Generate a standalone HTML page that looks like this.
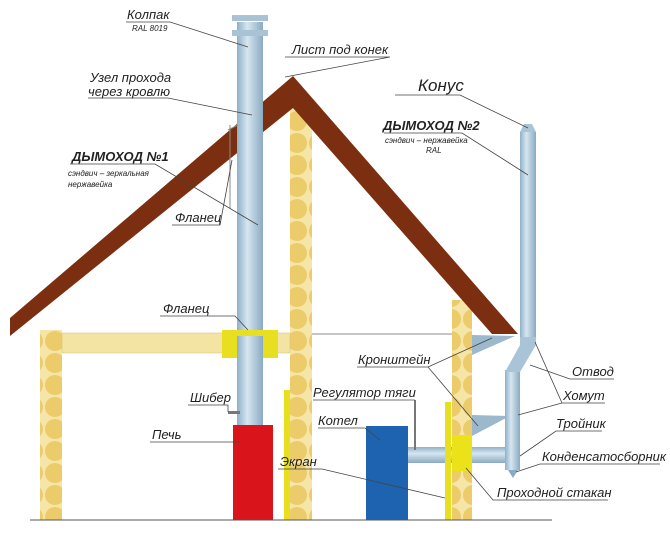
<!DOCTYPE html>
<html><head><meta charset="utf-8"><style>
html,body{margin:0;padding:0;background:#fff;}
svg{display:block}
text{font-family:"Liberation Sans","DejaVu Sans",sans-serif;font-style:italic;fill:#222;}
</style></head><body>
<svg width="670" height="551" viewBox="0 0 670 551" xmlns="http://www.w3.org/2000/svg">
<defs>
<linearGradient id="pg" x1="0" x2="1" y1="0" y2="0">
<stop offset="0" stop-color="#8fb0c8"/><stop offset="0.4" stop-color="#d6e6f0"/><stop offset="1" stop-color="#8aaac2"/>
</linearGradient>
<linearGradient id="ph" x1="0" x2="0" y1="0" y2="1">
<stop offset="0" stop-color="#8fb0c8"/><stop offset="0.4" stop-color="#d6e6f0"/><stop offset="1" stop-color="#8aaac2"/>
</linearGradient>
<pattern id="logs" width="22" height="22" patternUnits="userSpaceOnUse">
<rect width="22" height="22" fill="#f5e6a8"/><circle cx="11" cy="11" r="10" fill="#eccb6a"/>
</pattern>
</defs>
<rect x="40" y="330" width="22" height="190" fill="url(#logs)"/>
<rect x="290" y="108" width="22" height="412" fill="url(#logs)"/>
<rect x="452" y="300" width="20" height="220" fill="url(#logs)"/>
<rect x="62" y="333" width="228" height="20" fill="#f3e4a4" stroke="#d8c070" stroke-width="0.5"/>
<line x1="312" y1="334" x2="452" y2="334" stroke="#666" stroke-width="0.8"/>
<polygon points="10,318 293,76 518,334 492,334 293,108 10,336" fill="#7b2f10"/>
<rect x="237" y="22" width="26" height="403" fill="url(#pg)"/>
<rect x="232" y="15" width="36" height="6" fill="#a9c2d4"/>
<rect x="232" y="30" width="36" height="6" fill="#a9c2d4"/>
<line x1="230" y1="125" x2="230" y2="208" stroke="#888" stroke-width="1"/>
<line x1="228" y1="130" x2="238" y2="125" stroke="#888"/>
<rect x="222" y="330" width="56" height="28" fill="#e8df20"/>
<rect x="237" y="336" width="26" height="22" fill="url(#pg)"/>
<rect x="228" y="411" width="12" height="3" fill="#777"/>
<rect x="233" y="425" width="40" height="95" fill="#d9141a"/>
<rect x="284" y="390" width="6" height="130" fill="#e8df20"/>
<rect x="366" y="426" width="42" height="94" fill="#1d63b0"/>
<rect x="408" y="447" width="112" height="16" fill="url(#ph)"/>
<rect x="414" y="400" width="2" height="50" fill="#777"/>
<rect x="445" y="402" width="6" height="118" fill="#e8df20"/>
<rect x="452" y="435" width="20" height="36" fill="#ece21a"/>
<polygon points="472,335 515,336 472,355" fill="#9cb8cc"/>
<polygon points="472,415 510,416 472,436" fill="#9cb8cc"/>
<rect x="505" y="370" width="15" height="100" fill="url(#pg)"/>
<polygon points="505,372 520,372 536,345 536,335 520,335 520,345" fill="#a8c4d6"/>
<rect x="520" y="132" width="16" height="205" fill="url(#pg)"/>
<polygon points="520,132 536,132 532,124 524,124" fill="#a8c4d6"/>
<polygon points="508,470 518,470 513,478" fill="#8aaac2"/>
<line x1="30" y1="520" x2="552" y2="520" stroke="#555" stroke-width="1"/>
<g stroke="#444" stroke-width="0.8" fill="none">
<polyline points="126,22 170,22 248,47"/>
<polyline points="88,98 168,98 252,115"/>
<polyline points="70,164 155,164 258,225"/>
<polyline points="172,225 220,225 232,160"/>
<polyline points="285,57 390,57 285,77"/>
<polyline points="160,316 235,316 248,330"/>
<polyline points="188,405 228,405 228,412"/>
<polyline points="150,442 240,442"/>
<polyline points="313,400 415,400"/>
<polyline points="318,428 365,428 380,440"/>
<polyline points="278,469 322,469 445,498"/>
<polyline points="395,95 460,95 528,128"/>
<polyline points="384,133 462,133 528,175"/>
<polyline points="357,367 428,367 492,338"/>
<polyline points="428,367 478,426"/>
<polyline points="614,379 570,379 530,365"/>
<polyline points="605,403 562,403 535,342"/>
<polyline points="562,403 518,415"/>
<polyline points="602,431 556,431 520,456"/>
<polyline points="660,464 540,464 516,472"/>
<polyline points="608,500 493,500 466,468"/>
</g>
<g font-size="13">
<text x="127" y="19">Колпак</text>
<text x="132" y="31" font-size="8" fill="#666">RAL 8019</text>
<text x="90" y="82">Узел прохода</text>
<text x="88" y="96">через кровлю</text>
<text x="72" y="161" font-weight="bold" font-size="13">ДЫМОХОД №1</text>
<text x="68" y="176" font-size="8" fill="#444">сэндвич – зеркальная</text>
<text x="68" y="187" font-size="8" fill="#444">нержавейка</text>
<text x="175" y="222">Фланец</text>
<text x="292" y="54">Лист под конек</text>
<text x="163" y="313">Фланец</text>
<text x="190" y="402">Шибер</text>
<text x="152" y="439">Печь</text>
<text x="313" y="397">Регулятор тяги</text>
<text x="318" y="425">Котел</text>
<text x="280" y="466">Экран</text>
<text x="418" y="91" font-size="17">Конус</text>
<text x="383" y="130" font-weight="bold">ДЫМОХОД №2</text>
<text x="385" y="143" font-size="8" fill="#444">сэндвич – нержавейка</text>
<text x="426" y="153" font-size="8" fill="#444">RAL</text>
<text x="358" y="364">Кронштейн</text>
<text x="572" y="376">Отвод</text>
<text x="563" y="400">Хомут</text>
<text x="556" y="428">Тройник</text>
<text x="542" y="461">Конденсатосборник</text>
<text x="497" y="497">Проходной стакан</text>
</g>
</svg>
</body></html>
